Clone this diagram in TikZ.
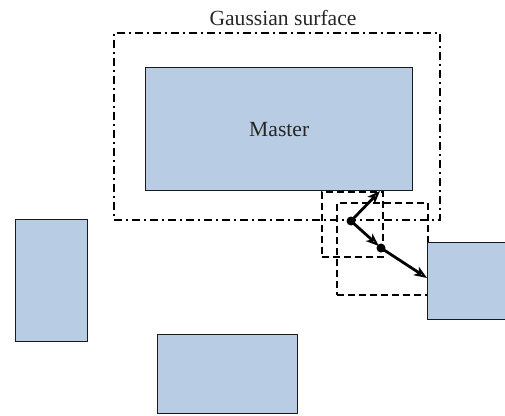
\documentclass[tikz,border=0pt]{standalone}
\usepackage{fontspec}
\setmainfont{Liberation Serif}
\usetikzlibrary{arrows.meta}
\definecolor{blkfill}{HTML}{B8CCE4}
\definecolor{blkdraw}{HTML}{1A1A1A}
\tikzset{
  blk/.style={draw=blkdraw, fill=blkfill, line width=1.4pt, inner sep=0pt, anchor=north west},
  gauss/.style={draw, line width=2.2pt, dash pattern=on 8pt off 4pt on 2pt off 4pt, inner sep=0pt},
  dbox/.style={draw, line width=2.2pt, dash pattern=on 7pt off 4pt, inner sep=0pt, anchor=north west},
  dotnode/.style={circle, fill=black, inner sep=0pt, minimum size=9pt},
  arr/.style={line width=2.8pt, -{Stealth[open, length=13pt, width=10pt, inset=3.5pt, line width=2pt, fill=white]}},
  lbl/.style={font=\fontsize{21.6}{26}\selectfont, text=black!85}
}
\begin{document}
\begin{tikzpicture}[x=1pt, y=-1pt]
\useasboundingbox (0,0) rectangle (505,415);
% Gaussian surface
\node[gauss, minimum width=326pt, minimum height=187pt] (gs) at (277,126.5) {};
\node[lbl] (gslabel) at (283,18) {Gaussian surface};
% dashed boxes
\node[dbox, minimum width=61pt, minimum height=65pt] (d1) at (321,191) {};
\node[dbox, minimum width=91pt, minimum height=92pt] (d2) at (336,202) {};
% blocks
\node[blk, minimum width=267pt, minimum height=123pt] (master) at (145,67) {};
\node[lbl] (mlabel) at (master.center) {Master};
\node[blk, minimum width=72pt, minimum height=122pt] (left) at (15,219) {};
\node[blk, minimum width=140pt, minimum height=79pt] (bottom) at (157,334) {};
\node[blk, minimum width=90pt, minimum height=77pt] (right) at (427,242) {};
% path
\node[dotnode] (p1) at (351,221) {};
\node[dotnode] (p2) at (381,248) {};
\coordinate (e1) at (380,191);
\coordinate (e3) at (427,278);
\draw[arr] (p1.center) -- (e1);
\draw[arr, shorten >=3pt] (p1.center) -- (p2.center);
\draw[arr] (p2.center) -- (e3);
\end{tikzpicture}
\end{document}
